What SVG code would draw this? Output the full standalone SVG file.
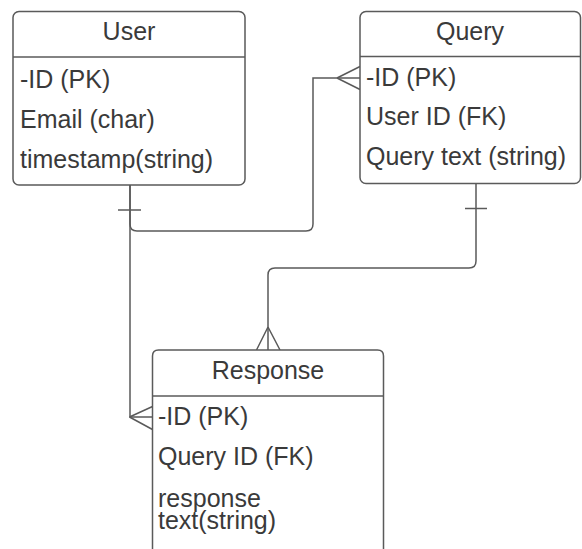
<svg xmlns="http://www.w3.org/2000/svg" width="582" height="549" viewBox="0 0 582 549">
<style>
.box{fill:#ffffff;stroke:#5a5a5a;stroke-width:1.5}
.div{stroke:#5a5a5a;stroke-width:1.5;fill:none}
.ln{stroke:#5a5a5a;stroke-width:1.5;fill:none}
text{font-family:"Liberation Sans",Arial,sans-serif;font-size:25px;fill:#3a3a3a}
.h{text-anchor:middle}
</style>
<rect width="582" height="549" fill="#ffffff"/>
<g id="connectors">
<path class="ln" d="M130 185 V224 Q130 231 137 231 H306 Q313 231 313 224 V78 H360"/>
<path class="ln" d="M337 78 L360 66.5 M337 78 L360 89.5"/>
<path class="ln" d="M118 210 H141"/>
<path class="ln" d="M130 185 V417 H152.5"/>
<path class="ln" d="M129.5 417 L152.5 406.5 M129.5 417 L152.5 429.5"/>
<path class="ln" d="M476 183.5 V261 Q476 268 469 268 H275 Q268 268 268 275 V350"/>
<path class="ln" d="M268 327 L256.5 350 M268 327 L280 350"/>
<path class="ln" d="M465 208.5 H487"/>
</g>
<g id="user">
<rect class="box" x="13" y="11.5" width="232" height="173.5" rx="6"/>
<line class="div" x1="13" y1="57" x2="245" y2="57"/>
<text class="h" x="129" y="40">User</text>
<text x="20" y="88">-ID (PK)</text>
<text x="20" y="128">Email (char)</text>
<text x="20" y="168">timestamp(string)</text>
</g>
<g id="query">
<rect class="box" x="360" y="11.5" width="220.5" height="172" rx="6"/>
<line class="div" x1="360" y1="56.5" x2="580.5" y2="56.5"/>
<text class="h" x="470" y="39.5">Query</text>
<text x="366" y="86">-ID (PK)</text>
<text x="366" y="125">User ID (FK)</text>
<text x="366" y="165">Query text (string)</text>
</g>
<g id="response">
<path class="box" d="M152.5 560 V356 Q152.5 350 158.5 350 H377.5 Q383.5 350 383.5 356 V560"/>
<line class="div" x1="152.5" y1="396" x2="383.5" y2="396"/>
<text class="h" x="268" y="378.5">Response</text>
<text x="158" y="425">-ID (PK)</text>
<text x="158" y="465">Query ID (FK)</text>
<text x="158" y="507"><tspan x="158" y="507">response</tspan><tspan x="158" y="529">text(string)</tspan></text>
</g>
</svg>
